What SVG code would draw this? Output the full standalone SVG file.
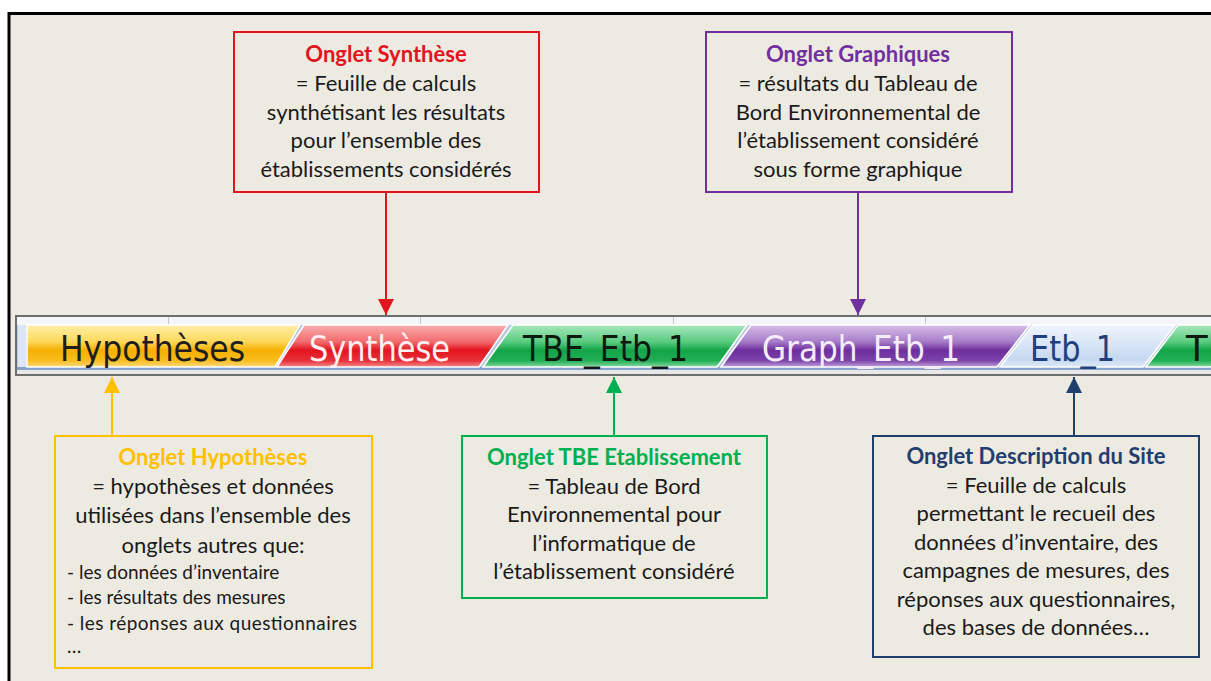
<svg xmlns="http://www.w3.org/2000/svg" width="1211" height="681" viewBox="0 0 1211 681">
<defs>
<style>
.box{fill:none;stroke-width:2}
.t{font-family:Lato,"Liberation Sans",sans-serif;font-size:22px;fill:#1a1a1a;text-anchor:middle}
.ti{font-weight:bold}
.s{font-family:Lato,"Liberation Sans",sans-serif;font-size:19px;fill:#1a1a1a}
.tab{font-family:"DejaVu Sans","Liberation Sans",sans-serif;font-size:36px}
.con{stroke-width:2;fill:none}
</style>
<linearGradient id="gY" x1="0" y1="0" x2="0" y2="1">
<stop offset="0" stop-color="#FFEFA8"/><stop offset="0.4" stop-color="#FCD85A"/><stop offset="0.6" stop-color="#F5B000"/><stop offset="0.85" stop-color="#F7BD20"/><stop offset="1" stop-color="#FBDA80"/></linearGradient>
<linearGradient id="gR" x1="0" y1="0" x2="0" y2="1">
<stop offset="0" stop-color="#F9AFAF"/><stop offset="0.4" stop-color="#F26A6E"/><stop offset="0.6" stop-color="#E3141E"/><stop offset="0.85" stop-color="#E8303A"/><stop offset="1" stop-color="#F48A8A"/></linearGradient>
<linearGradient id="gG" x1="0" y1="0" x2="0" y2="1">
<stop offset="0" stop-color="#A8E8BC"/><stop offset="0.4" stop-color="#5ACB80"/><stop offset="0.6" stop-color="#13A548"/><stop offset="0.85" stop-color="#22AE55"/><stop offset="1" stop-color="#86D9A0"/></linearGradient>
<linearGradient id="gP" x1="0" y1="0" x2="0" y2="1">
<stop offset="0" stop-color="#D8BEE8"/><stop offset="0.4" stop-color="#A67CC8"/><stop offset="0.6" stop-color="#6E2E9E"/><stop offset="0.85" stop-color="#7C44AA"/><stop offset="1" stop-color="#C2A2DA"/></linearGradient>
<linearGradient id="gB" x1="0" y1="0" x2="0" y2="1">
<stop offset="0" stop-color="#EEF4FC"/><stop offset="0.5" stop-color="#D6E4F6"/><stop offset="0.8" stop-color="#C6D8F0"/><stop offset="1" stop-color="#DCE8F7"/></linearGradient>
<marker id="aR" viewBox="0 0 16 16" refX="16" refY="8" markerWidth="16" markerHeight="16" markerUnits="userSpaceOnUse" orient="auto"><path d="M0,0 L16,8 L0,16 z" fill="#E3141E"/></marker>
<marker id="aP" viewBox="0 0 16 16" refX="16" refY="8" markerWidth="16" markerHeight="16" markerUnits="userSpaceOnUse" orient="auto"><path d="M0,0 L16,8 L0,16 z" fill="#7030A0"/></marker>
<marker id="aY" viewBox="0 0 16 16" refX="16" refY="8" markerWidth="16" markerHeight="16" markerUnits="userSpaceOnUse" orient="auto"><path d="M0,0 L16,8 L0,16 z" fill="#FFC000"/></marker>
<marker id="aG" viewBox="0 0 16 16" refX="16" refY="8" markerWidth="16" markerHeight="16" markerUnits="userSpaceOnUse" orient="auto"><path d="M0,0 L16,8 L0,16 z" fill="#00B050"/></marker>
<marker id="aB" viewBox="0 0 16 16" refX="16" refY="8" markerWidth="16" markerHeight="16" markerUnits="userSpaceOnUse" orient="auto"><path d="M0,0 L16,8 L0,16 z" fill="#1F3F6F"/></marker>
</defs>
<rect x="0" y="0" width="1211" height="681" fill="#FFFFFF"/>
<rect x="9" y="13.5" width="1210" height="680" fill="#EDEAE1" stroke="#000" stroke-width="3"/>

<g id="tabbar">
<rect x="16" y="316" width="1200" height="59" fill="#F2F2F2" stroke="#6E6E6E" stroke-width="2"/>
<rect x="17" y="317" width="1200" height="8" fill="#F4F6FA"/>
<g stroke="#C8C8C8" stroke-width="1"><line x1="168.5" y1="317" x2="168.5" y2="325"/><line x1="420.5" y1="317" x2="420.5" y2="325"/><line x1="673.5" y1="317" x2="673.5" y2="325"/><line x1="925.5" y1="317" x2="925.5" y2="325"/></g>
<rect x="17" y="325" width="1200" height="43" fill="#B8C8E0"/>
<rect x="18" y="325" width="8" height="43" fill="#DCE6F4"/>
<rect x="17" y="367" width="1200" height="3" fill="#8AA2C8"/>
<rect x="17" y="370" width="1200" height="4" fill="#E8E8E8"/>
<g stroke="#FFFFFF" stroke-width="1.5">
<polygon points="27,325 300,325 275,367 27,367" fill="url(#gY)"/>
<polygon points="304,325 508,325 479,367 277,367" fill="url(#gR)"/>
<polygon points="513,325 747,325 717,367 483,367" fill="url(#gG)"/>
<polygon points="751,325 1030,325 997,367 721,367" fill="url(#gP)"/>
<polygon points="1033,325 1175,325 1143,367 1000,367" fill="url(#gB)"/>
<polygon points="1178,325 1215,325 1215,367 1146,367" fill="url(#gG)"/>
</g>
<text class="tab" x="60" y="361" textLength="185" lengthAdjust="spacingAndGlyphs" fill="#1E1E1E">Hypothèses</text>
<text class="tab" x="309" y="361" textLength="141" lengthAdjust="spacingAndGlyphs" fill="#FFF0F0">Synthèse</text>
<text class="tab" x="523" y="361" textLength="165" lengthAdjust="spacingAndGlyphs" fill="#0E1A10">TBE_Etb_1</text>
<text class="tab" x="762" y="361" textLength="198" lengthAdjust="spacingAndGlyphs" fill="#F4ECFA">Graph_Etb_1</text>
<text class="tab" x="1030" y="361" textLength="85" lengthAdjust="spacingAndGlyphs" fill="#1F3F7F">Etb_1</text>
<text class="tab" x="1186" y="361" textLength="46" lengthAdjust="spacingAndGlyphs" fill="#0E1A10">TB</text>
</g>

<g id="connectors">
<line class="con" x1="386" y1="192" x2="386" y2="315" stroke="#E3141E" marker-end="url(#aR)"/>
<line class="con" x1="858" y1="192" x2="858" y2="315" stroke="#7030A0" marker-end="url(#aP)"/>
<line class="con" x1="112" y1="436" x2="112" y2="377" stroke="#FFC000" marker-end="url(#aY)"/>
<line class="con" x1="614" y1="436" x2="614" y2="377" stroke="#00B050" marker-end="url(#aG)"/>
<line class="con" x1="1074" y1="436" x2="1074" y2="377" stroke="#1F3F6F" marker-end="url(#aB)"/>
</g>

<g id="synthese">
<rect class="box" x="234" y="32" width="305" height="160" stroke="#E3141E"/>
<text class="t ti" x="386" y="62" style="fill:#E3141E">Onglet Synthèse</text>
<text class="t" x="386" y="91">= Feuille de calculs</text>
<text class="t" x="386" y="120">synthétisant les résultats</text>
<text class="t" x="386" y="148">pour l’ensemble des</text>
<text class="t" x="386" y="177">établissements considérés</text>
</g>

<g id="graphiques">
<rect class="box" x="706" y="32" width="306" height="160" stroke="#7030A0"/>
<text class="t ti" x="858" y="62" style="fill:#7030A0">Onglet Graphiques</text>
<text class="t" x="858" y="91">= résultats du Tableau de</text>
<text class="t" x="858" y="120">Bord Environnemental de</text>
<text class="t" x="858" y="148">l’établissement considéré</text>
<text class="t" x="858" y="177">sous forme graphique</text>
</g>

<g id="hypotheses">
<rect class="box" x="55" y="436" width="317" height="232" stroke="#FFC000"/>
<text class="t ti" x="213" y="465" style="fill:#FFC000">Onglet Hypothèses</text>
<text class="t" x="213" y="494">= hypothèses et données</text>
<text class="t" x="213" y="523">utilisées dans l’ensemble des</text>
<text class="t" x="213" y="553">onglets autres que:</text>
<text class="s" x="67" y="579">- les données d’inventaire</text>
<text class="s" x="67" y="604">- les résultats des mesures</text>
<text class="s" x="67" y="630" textLength="290" lengthAdjust="spacing">- les réponses aux questionnaires</text>
<text class="s" x="67" y="653">…</text>
</g>

<g id="tbe">
<rect class="box" x="462" y="436" width="305" height="162" stroke="#00B050"/>
<text class="t ti" x="614" y="465" style="fill:#00B050">Onglet TBE Etablissement</text>
<text class="t" x="614" y="494">= Tableau de Bord</text>
<text class="t" x="614" y="522">Environnemental pour</text>
<text class="t" x="614" y="551">l’informatique de</text>
<text class="t" x="614" y="579">l’établissement considéré</text>
</g>

<g id="description">
<rect class="box" x="873" y="436" width="326" height="221" stroke="#1F3F6F"/>
<text class="t ti" x="1036" y="464" style="fill:#1F3F6F">Onglet Description du Site</text>
<text class="t" x="1036" y="493">= Feuille de calculs</text>
<text class="t" x="1036" y="521">permettant le recueil des</text>
<text class="t" x="1036" y="550">données d’inventaire, des</text>
<text class="t" x="1036" y="578">campagnes de mesures, des</text>
<text class="t" x="1036" y="607">réponses aux questionnaires,</text>
<text class="t" x="1036" y="635">des bases de données…</text>
</g>
</svg>
